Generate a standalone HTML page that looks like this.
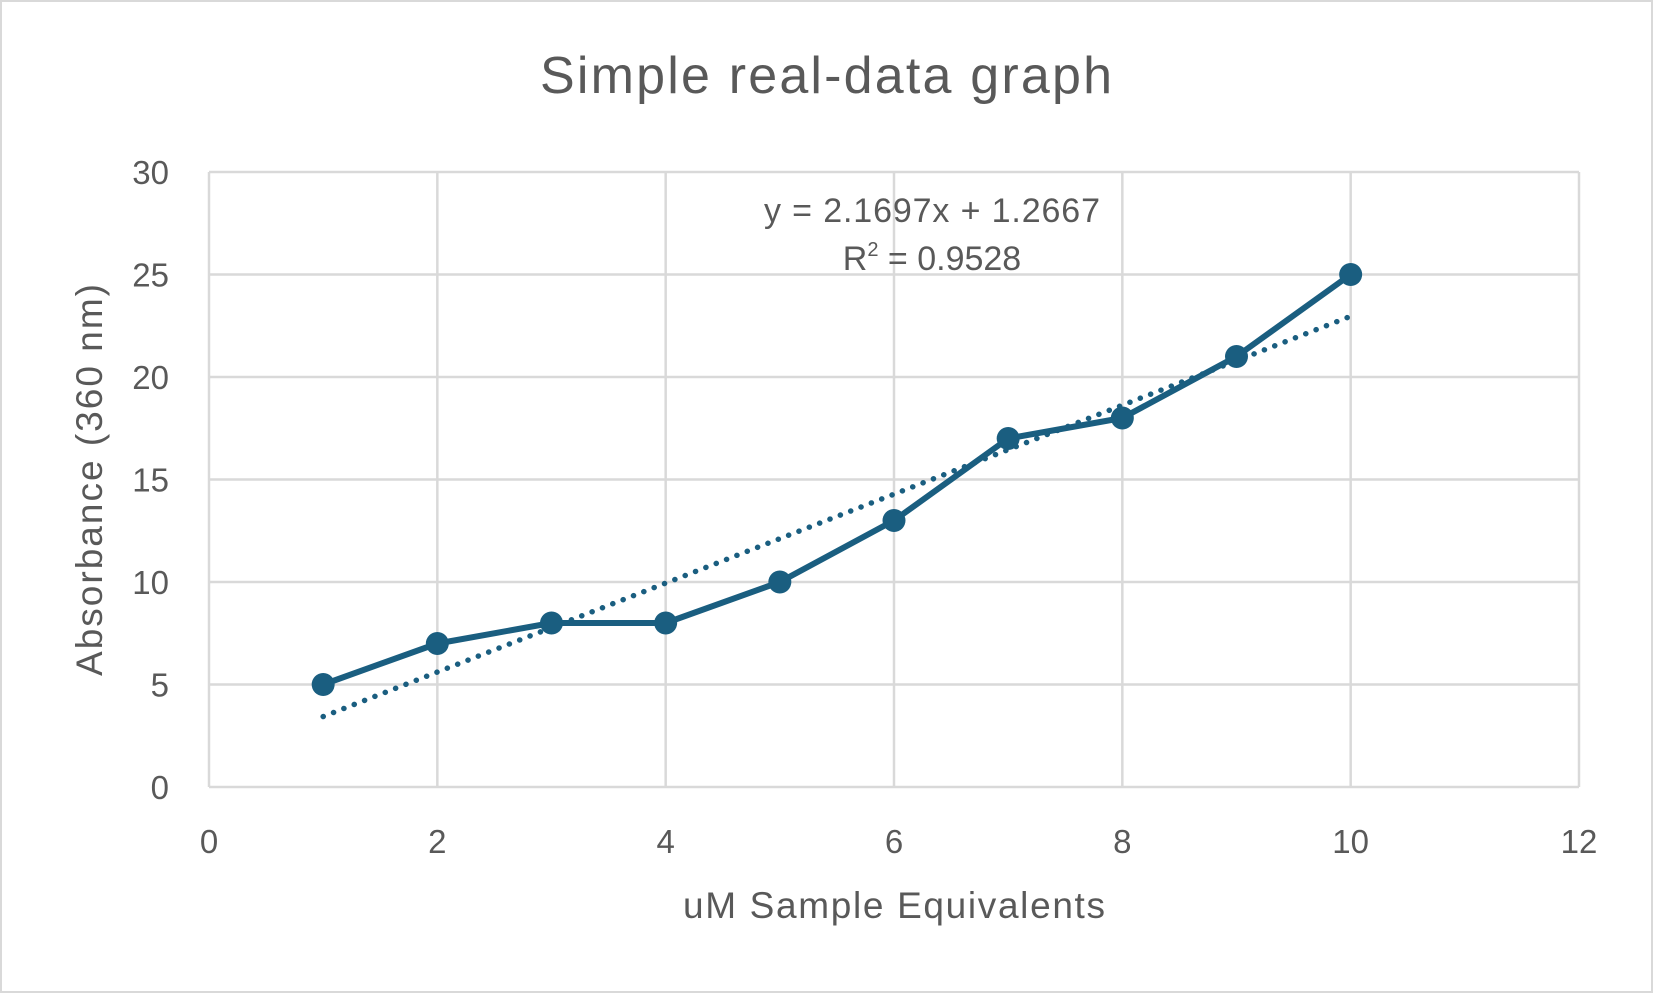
<!DOCTYPE html>
<html><head><meta charset="utf-8"><style>
html,body{margin:0;padding:0;background:#fff;}
svg{display:block;font-family:"Liberation Sans",sans-serif;}
</style></head><body>
<svg id="chart" width="1653" height="993" viewBox="0 0 1653 993">
<rect x="1" y="1" width="1651" height="991" fill="#fff" stroke="#d9d9d9" stroke-width="2"/>
<text x="826" y="93" text-anchor="middle" font-size="52" fill="#595959" textLength="572">Simple real-data graph</text>
<g id="grid"></g>
<g id="ticks"></g>
<g id="series"></g>
<text x="932" y="222" text-anchor="middle" font-size="34" fill="#595959" textLength="336">y = 2.1697x + 1.2667</text>
<text x="932" y="270" text-anchor="middle" font-size="34" fill="#595959">R<tspan dy="-14" font-size="20">2</tspan><tspan dy="14"> = 0.9528</tspan></text>
<text x="894" y="918" text-anchor="middle" font-size="37" fill="#595959" textLength="422">uM Sample Equivalents</text>
<text transform="translate(102,480) rotate(-90)" text-anchor="middle" font-size="37" fill="#595959" textLength="392">Absorbance (360 nm)</text>
</svg>
<script>
const xValues=[1,2,3,4,5,6,7,8,9,10];
const yValues=[5,7,8,8,10,13,17,18,21,25];
const xTicks=[0,2,4,6,8,10,12];
const yTicks=[0,5,10,15,20,25,30];
const slope=2.1697, intercept=1.2667;
const NS="http://www.w3.org/2000/svg";
const L=209,R=1579,T=172,B=787;
const sx=v=>L+(v-0)/(12-0)*(R-L);
const sy=v=>B-(v-0)/(30-0)*(B-T);
function mk(tag,attrs,parent){const e=document.createElementNS(NS,tag);for(const k in attrs)e.setAttribute(k,attrs[k]);parent.appendChild(e);return e;}
const grid=document.getElementById('grid'),ticks=document.getElementById('ticks'),series=document.getElementById('series');
yTicks.forEach(t=>{
 const l=mk('line',{x1:L,x2:R,y1:sy(t),y2:sy(t),stroke:'#d9d9d9','stroke-width':2.5},grid);
 
 
 const tx=mk('text',{x:169,y:sy(t)+12,'text-anchor':'end','font-size':33,fill:'#595959'},ticks);
 tx.textContent=t;
 
 
});
xTicks.forEach(t=>{
 const l=mk('line',{x1:sx(t),x2:sx(t),y1:T,y2:B,stroke:'#d9d9d9','stroke-width':2.5},grid);
 
 
 const tx=mk('text',{x:sx(t),y:853,'text-anchor':'middle','font-size':33,fill:'#595959'},ticks);
 tx.textContent=t;
 
 
});
const x0=xValues[0],x1=xValues[xValues.length-1];
const tl=mk('line',{x1:sx(x0),y1:sy(slope*x0+intercept),x2:sx(x1),y2:sy(slope*x1+intercept),stroke:'#1a5e80','stroke-width':5.5,'stroke-dasharray':'0.1 11','stroke-linecap':'round'},series);


const pts=xValues.map((x,i)=>sx(x)+','+sy(yValues[i])).join(' ');
const pl=mk('polyline',{points:pts,fill:'none',stroke:'#1a5e80','stroke-width':6,'stroke-linejoin':'round'},series);


xValues.forEach((x,i)=>{
 const c=mk('circle',{cx:sx(x),cy:sy(yValues[i]),r:11.5,fill:'#1a5e80'},series);
 
 
});
</script>
</body></html>
